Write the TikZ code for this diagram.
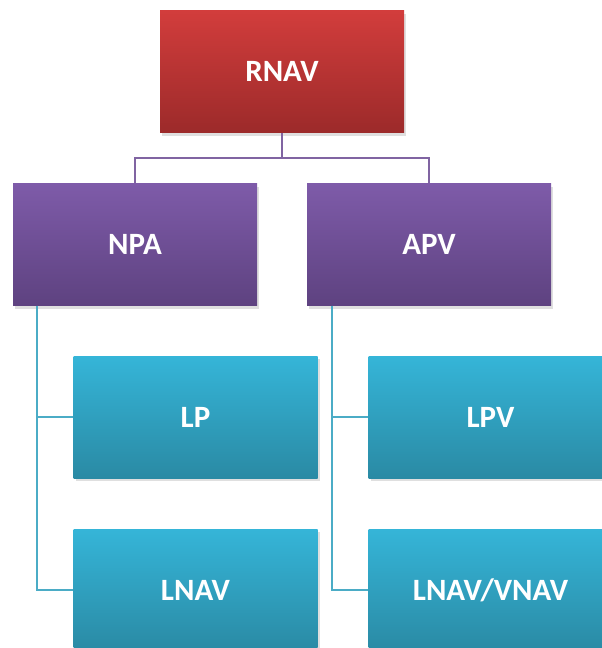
\documentclass[tikz,border=0pt]{standalone}
\usepackage{fontspec}
\setmainfont{Carlito}
\usetikzlibrary{shadows}
\definecolor{rnavtop}{HTML}{D23D3C}
\definecolor{rnavbot}{HTML}{9C2A2A}
\definecolor{typetop}{HTML}{7E5BA9}
\definecolor{typebot}{HTML}{5E4280}
\definecolor{proctop}{HTML}{35B5D8}
\definecolor{procbot}{HTML}{2A8AA4}
\definecolor{typeline}{HTML}{8064A2}
\definecolor{procline}{HTML}{4BACC6}
\begin{document}
\begin{tikzpicture}[x=1pt, y=-1pt,
  box/.style={minimum width=244pt, minimum height=122pt, inner sep=0pt,
    text=white, font=\bfseries\fontsize{31}{31}\selectfont,
    drop shadow={shadow xshift=2pt, shadow yshift=-3pt, opacity=0.25}},
  rootbox/.style={box, top color=rnavtop, bottom color=rnavbot},
  typebox/.style={box, top color=typetop, bottom color=typebot},
  procbox/.style={box, top color=proctop, bottom color=procbot}]
  \useasboundingbox (0,0) rectangle (602,648);
  \clip (0,0) rectangle (602,648);

  \node[rootbox] (rnav) at (282,71.5) {RNAV};
  \node[typebox] (npa) at (135,244.5) {NPA};
  \node[typebox] (apv) at (429,244.5) {APV};

  \node[procbox] (lp) at (195.5,417) {LP};
  \node[procbox] (lnav) at (195.5,590) {LNAV};
  \node[procbox] (lpv) at (490.5,417) {LPV};
  \node[procbox] (lnavvnav) at (490.5,590) {LNAV/VNAV};

  \coordinate (bus) at (282,158);
  \draw[typeline, line width=2pt] (rnav.south) -- (bus);
  \draw[typeline, line width=2pt] (bus) -| (npa.north);
  \draw[typeline, line width=2pt] (bus) -| (apv.north);

  \coordinate (npastem) at ([xshift=24pt]npa.south west);
  \coordinate (apvstem) at ([xshift=25pt]apv.south west);
  \draw[procline, line width=2pt] (npastem) |- (lp.west);
  \draw[procline, line width=2pt] (npastem) |- (lnav.west);
  \draw[procline, line width=2pt] (apvstem) |- (lpv.west);
  \draw[procline, line width=2pt] (apvstem) |- (lnavvnav.west);
\end{tikzpicture}
\end{document}
